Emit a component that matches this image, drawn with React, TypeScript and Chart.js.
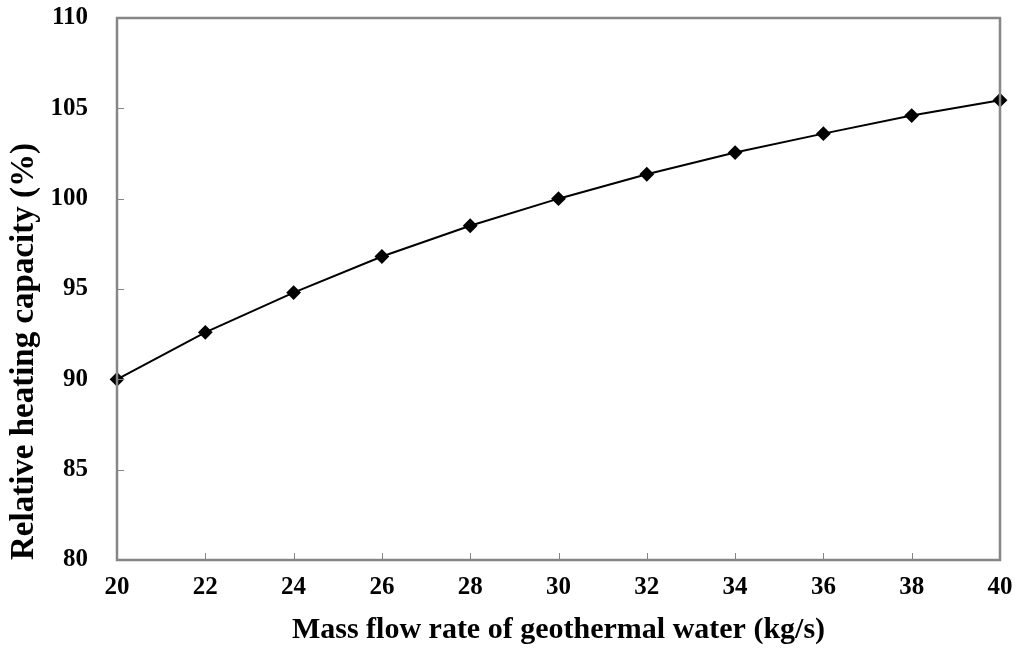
import React, { useEffect, useRef } from "react";
import { Chart, registerables } from "chart.js";

Chart.register(...registerables);

const flowRates = [20, 22, 24, 26, 28, 30, 32, 34, 36, 38, 40];
const relativeCapacity = [90.0, 92.6, 94.8, 96.8, 98.5, 100.0, 101.35, 102.55, 103.6, 104.6, 105.45];
const xTitle = "Mass flow rate of geothermal water (kg/s)";
const yTitle = "Relative heating capacity (%)";

const FONT = "'Liberation Serif', 'Times New Roman', serif";
const AXIS_GRAY = "#868686";

const framePlugin = {
  id: "frameAndInnerTicks",
  afterDatasetsDraw(chart: any) {
    const { ctx, chartArea, scales } = chart;
    const { left, right, top, bottom } = chartArea;
    ctx.save();
    ctx.strokeStyle = AXIS_GRAY;
    ctx.lineWidth = 1;
    ctx.beginPath();
    scales.x.ticks.forEach((t: any) => {
      const px = Math.round(scales.x.getPixelForValue(t.value)) + 0.5;
      ctx.moveTo(px, bottom);
      ctx.lineTo(px, bottom - 7);
    });
    scales.y.ticks.forEach((t: any) => {
      const py = Math.round(scales.y.getPixelForValue(t.value)) + 0.5;
      ctx.moveTo(left, py);
      ctx.lineTo(left + 7, py);
    });
    ctx.stroke();
    ctx.lineWidth = 2.5;
    ctx.strokeRect(left, top, right - left, bottom - top);
    ctx.restore();
  },
};

export default function App() {
  const canvasRef = useRef<HTMLCanvasElement | null>(null);

  useEffect(() => {
    if (!canvasRef.current) return;
    const chart = new Chart(canvasRef.current, {
      type: "line",
      data: {
        datasets: [
          {
            data: flowRates.map((x, i) => ({ x, y: relativeCapacity[i] })),
            borderColor: "#000000",
            backgroundColor: "#000000",
            borderWidth: 2,
            pointStyle: "rectRot",
            pointRadius: 6,
            pointHoverRadius: 6,
            tension: 0,
            clip: false,
          },
        ],
      },
      options: {
        animation: false,
        responsive: false,
        maintainAspectRatio: false,
        layout: { padding: { left: 0, right: 17, top: 18, bottom: 0 } },
        plugins: { legend: { display: false }, tooltip: { enabled: false } },
        scales: {
          x: {
            type: "linear",
            min: 20,
            max: 40,
            border: { display: false },
            grid: { display: false, drawTicks: false },
            ticks: {
              stepSize: 2,
              padding: 13,
              color: "#000",
              maxRotation: 0,
              font: { family: FONT, size: 25, weight: "bold" },
            },
            title: {
              display: true,
              text: xTitle,
              color: "#000",
              padding: { top: 0, bottom: 2 },
              font: { family: FONT, size: 30, weight: "bold" },
            },
            afterFit(scale: any) {
              scale.height = 90;
              scale.paddingLeft = 0;
              scale.paddingRight = 0;
            },
          },
          y: {
            type: "linear",
            min: 80,
            max: 110,
            border: { display: false },
            grid: { display: false, drawTicks: false },
            ticks: {
              stepSize: 5,
              padding: 29,
              color: "#000",
              font: { family: FONT, size: 25, weight: "bold" },
            },
            title: {
              display: true,
              text: yTitle,
              color: "#000",
              align: "start",
              padding: { top: 5, bottom: 0 },
              font: { family: FONT, size: 33, weight: "bold" },
            },
            afterFit(scale: any) {
              scale.width = 117;
              scale.paddingTop = 0;
              scale.paddingBottom = 0;
            },
          },
        },
      },
      plugins: [framePlugin],
    });
    return () => chart.destroy();
  }, []);

  return (
    <div style={{ position: "fixed", left: 0, top: 0, width: 1017, height: 650, background: "#fff" }}>
      <canvas ref={canvasRef} width={1017} height={650} style={{ width: 1017, height: 650 }} />
    </div>
  );
}
